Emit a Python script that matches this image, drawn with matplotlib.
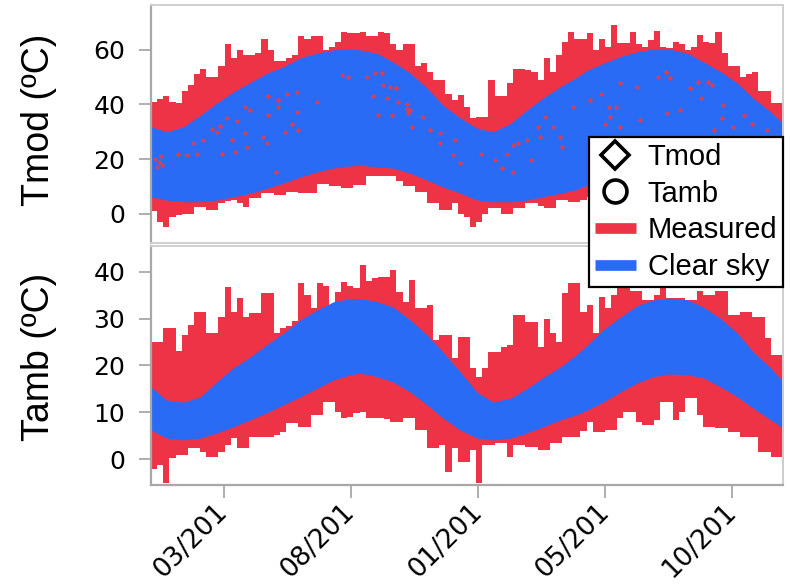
import numpy as np
import matplotlib.pyplot as plt
from matplotlib.lines import Line2D

plt.rcParams["font.family"] = "DejaVu Sans"

red = '#ee3346'
blue = '#2a6bf6'

start = np.datetime64('2016-12-27')
end = start + np.timedelta64(721, 'D')

# weekly max / min of the measured series
tmod_max = [41, 42, 43, 41, 40.5, 45, 47, 51, 53, 50,
            50, 54, 62, 57, 60, 58, 58, 59, 64, 60,
            56, 56, 57, 58, 65, 64, 65, 65, 60, 61,
            63, 66.5, 66, 66, 66.5, 65, 65, 66.5, 66, 62,
            60, 62, 62, 54, 55, 52, 49, 49, 44, 41.6,
            43.5, 39, 35, 35.5, 35.5, 49, 43, 43, 48, 53,
            53, 52.6, 52, 49, 57, 52, 58, 63, 66.5, 64,
            64, 66, 60, 64, 61, 69, 62.5, 62.5, 66.5, 62,
            61, 63.6, 67, 61, 60.6, 63, 62, 60, 61, 65.5,
            63, 62.5, 66.5, 59, 54, 54, 50, 51, 52, 45,
            45, 40.5, 40.5, 40]
tmod_min = [1, -3, -5, -1, -0.5, 0, 0, 2.5, 2.5, 1.3,
            1.3, 4, 4.5, 5, 4, 2.5, 5.7, 5.7, 7.5, 7.5,
            7, 7, 8, 8, 7.5, 7.5, 7.5, 11, 11, 10,
            10, 9.3, 9.5, 10.5, 10.5, 14, 14, 14, 14, 14,
            12, 10, 10, 8, 8, 4, 4, 1.3, 1.3, 4,
            0, -1, -5, -3, 0, 2, 2, 0, 0, 2,
            2, 4, 4, 3, 2, 2, 5, 5, 4.3, 4.3,
            5, 6, 6, 7, 7, 8, 8, 9, 10, 10,
            11, 10, 11, 12, 12, 13, 12, 11, 11, 10,
            9, 8, 7, 6, 5, 4, 3, 2, 2, 1,
            0, 0, 0, 0]
tamb_max = [25, 25, 28, 28, 23, 26.5, 28.6, 31.4, 31.4, 27,
            27, 30.3, 36.7, 31.4, 34.3, 30.3, 31.2, 31.2, 35.4, 35.4,
            27, 28, 28.5, 29.5, 37.6, 35, 32.2, 37.6, 37, 32.2,
            35.7, 37.9, 37, 36.5, 41.4, 38, 38.7, 38.9, 38.9, 40.3,
            35.7, 33.6, 38.2, 32.2, 32.2, 32.9, 25.4, 26.5, 26.5, 21.6,
            26.1, 26, 19.5, 17.6, 19.5, 22.9, 22.9, 24, 24.3, 30.8,
            30.8, 29.3, 29.3, 24, 30, 27, 25, 35.4, 37.6, 37.6,
            31.4, 32.9, 27, 34.6, 32.2, 35, 37.5, 37, 36, 36,
            34, 34, 35, 37, 34.5, 34.5, 34.5, 34, 34, 36,
            35, 35, 36, 36, 30.8, 30.8, 31.4, 31.4, 30.3, 30.3,
            25.8, 22.2, 22.2, 20]
tamb_min = [-2, -1.2, -5, 0.3, 0.9, 0.9, 2.4, 2.4, 1.6, 0.5,
            0.5, 1.6, 3, 4.5, 2.4, 2.4, 4.8, 4.8, 4.8, 4.8,
            5.2, 5.8, 7.7, 7.7, 6.9, 6.9, 9.4, 9.4, 12.2, 12.2,
            10, 8.8, 9, 9.9, 10.1, 8.8, 8.8, 8.8, 8.5, 8,
            8, 8.8, 8.8, 6.2, 6.2, 2.4, 2.4, 3, -2.7, 2.4,
            -0.6, -0.6, 2, -5, 3, 3, 3.5, 3.5, 0.5, 3,
            3, 2.6, 2.6, 2, 2, 3.5, 3.5, 4.8, 4.8, 4.8,
            6, 8, 5.8, 5.8, 6.2, 6.2, 8.8, 10.1, 10.1, 8,
            7.3, 7.3, 8.4, 12.2, 12.2, 8.4, 10, 13, 13, 9.4,
            6.9, 6.9, 6.6, 6.6, 5.8, 5.8, 4.8, 4.8, 4.8, 1.6,
            1.6, 0.5, 0.5, -4]

# clear sky envelope (day of record, upper, lower)
cs_day = [0, 18, 37, 56, 75, 94, 113, 132, 151, 170,
          189, 208, 227, 239, 258, 276, 296, 315, 333, 353,
          372, 390, 410, 429, 447, 467, 484, 498, 516, 535,
          555, 573, 592, 612, 630, 650, 669, 687, 707, 721]
tmod_cs_hi = [31.8, 30, 31.8, 36, 40.5, 44.6, 48, 51.4, 53.8, 57,
              58.8, 60, 60.2, 60, 58.7, 55.6, 51.4, 46, 39.8, 35,
              31.3, 30, 33, 38, 42.3, 46.5, 49.6, 52.6, 55, 57.5,
              59.3, 60.3, 60.3, 58.7, 55.6, 52, 47.8, 42.3, 37.3, 33]
tmod_cs_lo = [6.2, 5, 4.4, 4.4, 5, 6.2, 7.5, 9.3, 11.2, 13.4,
              15.3, 16.7, 17.5, 17.8, 17.1, 16.7, 14.8, 12.3, 9.8, 7.5,
              5, 4.4, 4.4, 5, 6.2, 7.5, 8.7, 10.5, 12.5, 14.5,
              16, 17, 17.5, 17.5, 16.7, 15, 13, 11, 9, 7.5]
tamb_cs_hi = [15.4, 12.6, 12.2, 13.3, 16.5, 19.5, 21.8, 24.4, 26.9, 29.7,
              31.8, 33.6, 34.3, 34.3, 33.6, 32.5, 29.7, 26.5, 22.9, 18.6,
              14.3, 12.2, 13, 15.1, 17.4, 19.7, 22.1, 24.4, 27.6, 30.3,
              32.8, 34, 34.4, 34, 32.5, 30, 26.9, 22.9, 19.5, 16.5]
tamb_cs_lo = [6.2, 4.5, 4.1, 4.5, 5.6, 6.9, 8.4, 9.9, 11.6, 13.3,
              15.1, 16.9, 18, 18.4, 17.6, 16.5, 14.3, 11.6, 8.8, 6.2,
              4.5, 4.1, 4.5, 5.6, 6.9, 8.4, 9.4, 10.5, 12.2, 14.3,
              16.3, 17.6, 18.2, 18, 17.4, 15.4, 13.3, 10.9, 8.4, 6.6]

# isolated Tmod readings lying inside the clear sky band
dot_day = [5, 7, 9, 11, 13, 31, 41, 48, 53, 59, 70, 75, 79, 81, 87, 92, 96, 98, 107, 107,
           113, 110, 128, 132, 134, 134, 145, 145, 143, 153, 155, 161, 167, 167, 168, 189, 218, 225,
           247, 256, 264, 265, 273, 279, 253, 269, 259, 275, 282, 292, 292, 293, 296, 298, 310, 318,
           330, 330, 347, 344, 353, 376, 393, 401, 406, 413, 413, 419, 429, 433, 441, 444, 450, 459,
           467, 469, 481,
           501, 513, 518, 522, 524, 530, 535, 535, 555, 558, 578, 587, 592, 589, 604, 615, 624, 627,
           635, 640, 642, 652, 653, 664, 676, 686, 703]
dot_val = [20, 17, 19, 21, 18, 22, 21.5, 26, 22, 27, 31, 30, 32, 22, 35, 27, 22.6, 34, 39, 29.5,
           38, 24.4, 28, 26, 43, 36, 41.6, 39, 15.4, 30, 44, 33, 44.6, 37.4, 30.7, 41, 50.8, 50,
           50, 51.4, 51.4, 47, 46.5, 46, 43, 42.3, 36, 36, 41, 40, 38.5, 37, 38, 31.8, 35.4, 30.7,
           29.5, 26, 27, 21.5, 18.5, 22, 19.7, 16.7, 22, 25, 15.4, 26, 27, 19.7, 31.8, 28, 35.4, 31.8,
           28, 24.4, 39,
           41.6, 44, 33, 39, 35.4, 39, 47.8, 31.8, 46.5, 34.3, 50, 52, 49.6, 36.8, 38, 46, 48.3, 42.3,
           48.3, 47, 30.7, 35, 39.8, 31.8, 36, 33, 30.7]

tick_dates = ['2017-03-20', '2017-08-12', '2018-01-04', '2018-05-29', '2018-10-21']
tick_labels = ['03/201', '08/201', '01/201', '05/201', '10/201']

weeks = start + np.arange(len(tmod_max) + 1) * np.timedelta64(7, 'D')
cs_dates = start + np.array(cs_day) * np.timedelta64(1, 'D')
dot_dates = start + np.array(dot_day) * np.timedelta64(1, 'D')


def stepped(v):
    return list(v) + [v[-1]]


fig = plt.figure(figsize=(7.9, 5.86), dpi=100)
ax1 = fig.add_axes([0.1911, 0.5853, 0.8, 0.4062])
ax2 = fig.add_axes([0.1911, 0.1724, 0.8, 0.4078], sharex=ax1)

ax1.fill_between(weeks, stepped(tmod_min), stepped(tmod_max), step='post',
                 color=red, lw=0, zorder=1)
ax1.fill_between(cs_dates, tmod_cs_lo, tmod_cs_hi, color=blue, lw=0, zorder=2)
ax1.plot(dot_dates, dot_val, ls='none', marker='D', ms=2.2, mew=0.5,
         mfc=red, mec='#c84a66', zorder=3)

ax2.fill_between(weeks, stepped(tamb_min), stepped(tamb_max), step='post',
                 color=red, lw=0, zorder=1)
ax2.fill_between(cs_dates, tamb_cs_lo, tamb_cs_hi, color=blue, lw=0, zorder=2)

ax1.set_ylim(-10.7, 76.4)
ax2.set_ylim(-5.5, 45.5)
ax1.set_yticks([0, 20, 40, 60])
ax2.set_yticks([0, 10, 20, 30, 40])
ax2.set_xlim(start, end)
ax2.set_xticks(np.array(tick_dates, dtype='datetime64[D]'))
ax2.set_xticklabels(tick_labels, rotation=45, ha='right', va='center',
                    rotation_mode='anchor')

for ax in (ax1, ax2):
    for side in ('top', 'right', 'bottom'):
        ax.spines[side].set_color('#cfcfcf')
        ax.spines[side].set_linewidth(1.4)
    ax.spines['left'].set_color('#a8a8a8')
    ax.spines['left'].set_linewidth(1.6)
    ax.tick_params(axis='y', direction='out', length=8.5, width=1.3,
                   color='#a8a8a8', labelsize=18, pad=10)
ax2.spines['bottom'].set_color('#a8a8a8')
ax2.spines['bottom'].set_linewidth(1.6)
ax2.tick_params(axis='x', direction='out', length=9, width=1.3,
                color='#a8a8a8', labelsize=19, pad=8)
ax1.tick_params(axis='x', length=0, labelbottom=False)

ax1.set_ylabel('Tmod (ºC)', family='Liberation Sans', fontsize=27)
ax2.set_ylabel('Tamb (ºC)', family='Liberation Sans', fontsize=27)
ax1.yaxis.set_label_coords(-0.148, 0.517)
ax2.yaxis.set_label_coords(-0.148, 0.535)

handles = [
    Line2D([], [], ls='none', marker='D', ms=14, mew=2.6, mfc='white', mec='black'),
    Line2D([], [], ls='none', marker='o', ms=16.5, mew=2.6, mfc='white', mec='black'),
    Line2D([], [], color=red, lw=7.7, solid_capstyle='butt'),
    Line2D([], [], color=blue, lw=7.7, solid_capstyle='butt'),
]
leg = fig.legend(handles, ['Tmod', 'Tamb', 'Measured', 'Clear sky'],
                 loc='upper right', bbox_to_anchor=(0.9911, 0.766),
                 prop={'family': 'Liberation Sans', 'size': 21},
                 frameon=True, fancybox=False, framealpha=1, edgecolor='black',
                 borderaxespad=0, borderpad=0.2, labelspacing=0.3,
                 handlelength=1.4, handletextpad=0.4)
leg.get_frame().set_linewidth(1.6)

fig.savefig('out.png', dpi=100)
